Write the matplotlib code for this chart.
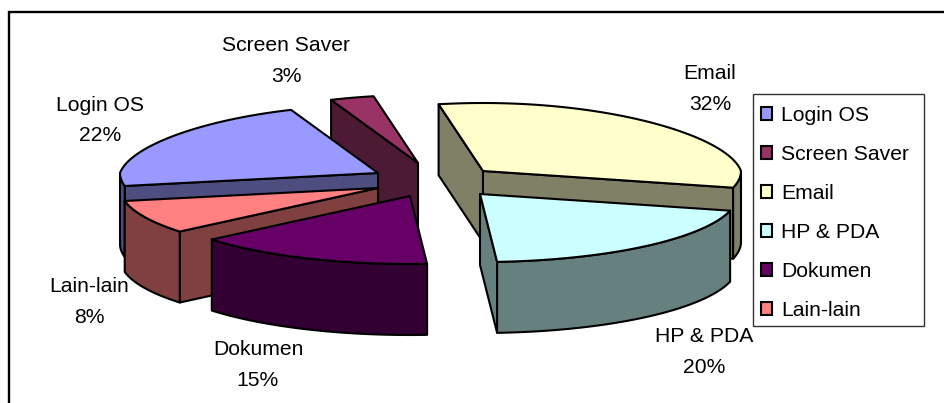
import numpy as np
import matplotlib
matplotlib.use('Agg')
from matplotlib import pyplot as plt
from matplotlib.patches import Patch, Polygon, Rectangle

labels = ['Login OS', 'Screen Saver', 'Email', 'HP & PDA', 'Dokumen', 'Lain-lain']
values = [22, 3, 32, 20, 15, 8]
top_colors = ['#9999FF', '#993366', '#FFFFCC', '#CCFFFF', '#660066', '#FF8080']
wall_colors = ['#4D4D80', '#4D1A33', '#808066', '#668080', '#330033', '#804040']

# pixel layout of the exploded pie
START_ANGLE = 191.
RX, RY = 258., 68.
PERSPECTIVE = 0.1
HEIGHT = 71.
apexes = [(378, 173), (418, 163), (483, 171), (480, 194), (410, 196), (378, 188)]
label_pos = [(100, 120.5), (286, 61), (710, 89), (704, 352), (258, 365), (89, 302)]
# back slices first so the front ones overlap them
draw_order = [1, 0, 5, 4, 2, 3]


def rim(apex, a0, a1, n=80):
    t = np.radians(np.linspace(a0, a1, n))
    # far side of the pie is drawn a little narrower than the near side
    scale = 1 - PERSPECTIVE*np.clip(np.sin(t), 0, 1)
    return np.column_stack((apex[0] + RX*np.cos(t)*scale, apex[1] - RY*np.sin(t)))


def drop(points):
    return points + np.array([0., HEIGHT])


def draw_slice(ax, apex, a0, a1, top, wall):
    kw = dict(edgecolor='black', linewidth=1.5, joinstyle='round')
    centre = np.array([apex], dtype=float)
    arc = rim(apex, a0, a1)
    # radial walls, only those turned towards the viewer
    if np.sin(np.radians(a0 + 90)) < 0:
        edge = np.vstack((centre, arc[:1]))
        ax.add_patch(Polygon(np.vstack((edge, drop(edge)[::-1])), facecolor=wall, **kw))
    if np.sin(np.radians(a1 - 90)) < 0:
        edge = np.vstack((centre, arc[-1:]))
        ax.add_patch(Polygon(np.vstack((edge, drop(edge)[::-1])), facecolor=wall, **kw))
    # outer wall where the rim faces front
    t = np.linspace(a0, a1, 200)
    t = t[np.sin(np.radians(t)) < 0]
    if len(t):
        front = rim(apex, t[0], t[-1])
        ax.add_patch(Polygon(np.vstack((front, drop(front)[::-1])), facecolor=wall, **kw))
    ax.add_patch(Polygon(np.vstack((centre, arc)), facecolor=top, **kw))


plt.rcParams['font.family'] = ['Liberation Sans', 'DejaVu Sans']

fig = plt.figure(figsize=(9.44, 4.03), dpi=100)
ax = fig.add_axes([0, 0, 1, 1])
ax.set_xlim(0, 944)
ax.set_ylim(403, 0)
ax.axis('off')

# chart frame runs off the canvas to the right and bottom
ax.plot([9, 9, 944], [403, 12, 12], color='black', lw=1.7, solid_joinstyle='miter')

edges = START_ANGLE - np.concatenate(([0], np.cumsum(values))) / np.sum(values) * 360.
for i in draw_order:
    draw_slice(ax, apexes[i], edges[i], edges[i+1], top_colors[i], wall_colors[i])

for label, value, (x, y) in zip(labels, values, label_pos):
    ax.text(x, y, f'{label}\n{value}%', ha='center', va='center', fontsize=15.2,
            linespacing=1.79, color='black')

# legend box drawn by hand, entries sit a bit lower than the legend's own padding allows
ax.add_patch(Rectangle((752.5, 94), 171, 232, facecolor='white', edgecolor='#333333', linewidth=1.0))
handles = [Patch(facecolor=c, edgecolor='black', linewidth=1.5) for c in top_colors]
ax.legend(handles, labels, loc='upper left', bbox_to_anchor=(752.5/944, 1 - 98/403),
          borderaxespad=0, fontsize=15.2, frameon=False,
          handlelength=0.55, handleheight=0.55, handletextpad=0.43,
          labelspacing=0.95, borderpad=0.38)

fig.savefig('out.png', dpi=100)
